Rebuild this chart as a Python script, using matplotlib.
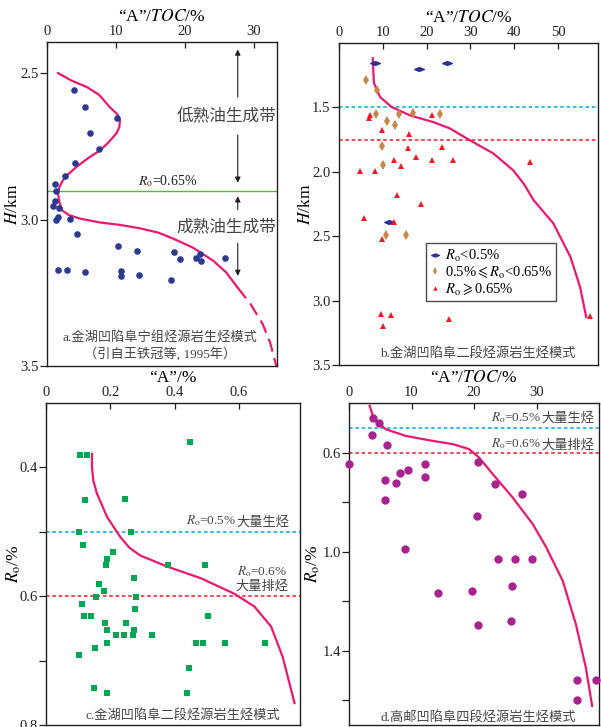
import matplotlib
matplotlib.use("Agg")
import matplotlib.pyplot as plt

plt.rcParams["font.family"] = ["Liberation Serif", "Noto Sans CJK SC"]
plt.rcParams["mathtext.fontset"] = "stix"
plt.rcParams["axes.unicode_minus"] = False

INK = "#231f20"
CURVE = "#e8196e"
CYAN = "#29b6e3"
RED_LINE = "#ef3e4a"

# ---- panel a: Jinhu sag, Funing Fm. ("A"/TOC vs depth)
a_toc = [3.9, 5.5, 10.1, 6.2, 7.5, 4.1, 2.6, 1.2, 1.3, 1.2, 0.9, 1.8, 1.3, 1.6,
         3.3, 4.4, 10.3, 13.1, 18.5, 19.3, 21.6, 22.2, 22.3, 25.9, 1.6, 2.9,
         5.5, 10.7, 10.8, 13.3, 18.0]
a_depth = [2.558, 2.616, 2.654, 2.705, 2.760, 2.808, 2.853, 2.880, 2.904, 2.938,
           2.955, 2.962, 3.003, 2.990, 2.997, 3.050, 3.089, 3.106, 3.110, 3.134,
           3.130, 3.116, 3.140, 3.130, 3.171, 3.171, 3.178, 3.175, 3.192, 3.188,
           3.205]
a_curve_x = [1.6, 3.5, 5.8, 7.6, 9.1, 10.2, 10.6, 10.5, 10.1, 9.0, 7.7, 6.0, 4.3,
             3.1, 2.3, 1.8, 1.6, 1.8, 2.2, 3.2, 4.8, 7.7, 10.5, 13.5, 16.2, 18.3,
             21.2, 24.1, 26.0, 27.7]
a_curve_y = [2.5, 2.525, 2.548, 2.575, 2.616, 2.64, 2.66, 2.685, 2.705, 2.735,
             2.764, 2.79, 2.82, 2.845, 2.866, 2.89, 2.911, 2.94, 2.969, 2.985,
             2.997, 3.01, 3.018, 3.03, 3.045, 3.065, 3.096, 3.14, 3.18, 3.233]
a_dash_x = [27.7, 29.6, 31.3, 32.4, 33.3]
a_dash_y = [3.233, 3.29, 3.356, 3.42, 3.5]
a_ro_line = 2.903

# ---- panel b: Jinhu sag, E1f2
b_low_toc = [8.2, 18.3, 24.6, 11.3]
b_low_h = [1.157, 1.200, 1.153, 2.386]
b_mid_toc = [6.2, 8.6, 8.4, 10.9, 13.6, 12.7, 16.8, 23.1, 9.9, 10.0, 10.8, 15.2]
b_mid_h = [1.291, 1.363, 1.554, 1.606, 1.554, 1.634, 1.544, 1.549, 1.80, 1.95,
           2.487, 2.487]
b_high_toc = [7.1, 6.8, 9.9, 21.2, 15.9, 15.7, 23.4, 17.5, 12.6, 14.1, 21.3, 25.9,
              43.6, 4.9, 8.2, 13.2, 18.6, 5.6, 12.5, 9.8, 9.6, 11.8, 10.0, 25.0,
              57.2]
b_high_h = [1.557, 1.583, 1.678, 1.557, 1.704, 1.815, 1.808, 1.885, 1.906, 1.955,
            1.911, 1.911, 1.921, 1.991, 1.991, 2.18, 2.25, 2.355, 2.39, 2.518,
            3.107, 3.112, 3.198, 3.143, 3.12]
b_curve_x = [7.7, 7.8, 8.0, 9.4, 12.0, 16.2, 21.5, 25.3, 29.9, 35.2, 39.8, 42.3,
             44.4, 48.9, 52.8, 55.0, 56.4]
b_curve_y = [1.118, 1.2, 1.314, 1.42, 1.497, 1.562, 1.614, 1.663, 1.756, 1.857,
             1.99, 2.1, 2.22, 2.40, 2.66, 2.893, 3.126]
b_lines = [1.5, 1.75]

# ---- panel c: Jinhu sag, E1f2 ("A" vs Ro)
c_a = [0.106, 0.129, 0.447, 0.122, 0.247, 0.103, 0.263, 0.116, 0.191, 0.209,
       0.188, 0.380, 0.493, 0.274, 0.166, 0.181, 0.156, 0.281, 0.113, 0.278,
       0.119, 0.141, 0.503, 0.184, 0.250, 0.191, 0.274, 0.219, 0.244, 0.272,
       0.331, 0.191, 0.466, 0.488, 0.556, 0.681, 0.153, 0.103, 0.444, 0.150,
       0.191, 0.438]
c_ro = [0.381, 0.381, 0.360, 0.451, 0.449, 0.501, 0.501, 0.521, 0.542, 0.531,
        0.551, 0.551, 0.551, 0.572, 0.581, 0.592, 0.601, 0.601, 0.612, 0.620,
        0.631, 0.631, 0.631, 0.641, 0.641, 0.652, 0.652, 0.661, 0.661, 0.661,
        0.661, 0.672, 0.672, 0.672, 0.672, 0.672, 0.681, 0.691, 0.712, 0.742,
        0.751, 0.751]
c_curve_x = [0.143, 0.143, 0.147, 0.158, 0.19, 0.231, 0.26, 0.294, 0.377, 0.481,
             0.585, 0.648, 0.70, 0.736, 0.773]
c_curve_y = [0.379, 0.399, 0.42, 0.44, 0.477, 0.508, 0.525, 0.537, 0.554, 0.572,
             0.596, 0.616, 0.647, 0.694, 0.766]

# ---- panel d: Gaoyou sag, E1f4
d_toc = [3.85, 4.86, 3.6, 6.0, 0.0, 5.8, 7.5, 8.2, 9.5, 12.2, 12.2, 20.6, 23.3,
         27.6, 5.7, 20.5, 9.0, 23.9, 26.5, 29.3, 26.1, 14.2, 19.6, 20.7, 25.9,
         36.4, 39.5, 36.4]
d_ro = [0.461, 0.479, 0.53, 0.57, 0.648, 0.71, 0.721, 0.681, 0.671, 0.648, 0.698,
        0.638, 0.728, 0.767, 0.79, 0.857, 0.988, 1.031, 1.031, 1.031, 1.139,
        1.167, 1.16, 1.296, 1.279, 1.517, 1.517, 1.598]
d_curve_x = [3.3, 4.0, 5.9, 9.1, 13.4, 16.6, 19.2, 20.8, 23.0, 26.2, 29.4, 31.5,
             34.2, 36.3, 37.9, 38.9]
d_curve_y = [0.411, 0.465, 0.506, 0.533, 0.553, 0.566, 0.586, 0.62, 0.687, 0.782,
             0.889, 0.98, 1.118, 1.293, 1.469, 1.623]

fig = plt.figure(figsize=(6.01, 7.27), dpi=100)
W, H = 601.0, 727.0


def make_axes(l, r, t, b):
    ax = fig.add_axes([l / W, 1 - b / H, (r - l) / W, (b - t) / H])
    for s in ax.spines.values():
        s.set_color(INK)
        s.set_linewidth(1.0)
    ax.xaxis.set_label_position("top")
    ax.xaxis.tick_top()
    ax.tick_params(axis="x", direction="in", length=4, width=0.9, colors=INK,
                   labelsize=10.5, pad=3)
    ax.tick_params(axis="y", direction="out", length=5, width=0.9, colors=INK,
                   labelsize=10.5, pad=1, which="both")
    return ax


def ro_note(ax, x, y, value, tail, size=9.5):
    # right-aligned "R_o=..." + chinese words
    t = ax.text(x, y, tail, ha="right", va="bottom", fontsize=size, color="#444")
    ax.annotate(value, xy=(0, 0.02), xycoords=t, ha="right", va="bottom",
                fontsize=size, color="#444")


xlab_toc = "\u201cA\u201d/$TOC$/%"

# a
ax = make_axes(47, 277, 42, 366)
ax.set_xlim(0, 33.4)
ax.set_ylim(3.5, 2.394)
ax.set_xticks([0, 10, 20, 30])
ax.set_yticks([2.5, 3.0, 3.5])
ax.set_yticklabels(["2.5", "3.0", "3.5"])
ax.set_xlabel(xlab_toc, fontsize=12.5, labelpad=3)
ax.set_ylabel("$H$/km", fontsize=12.5)
ax.yaxis.set_label_coords(-0.114, 0.5)
ax.axhline(a_ro_line, color="#5cb247", lw=1.0)
ax.plot(a_curve_x, a_curve_y, color=CURVE, lw=1.6)
ax.plot(a_dash_x, a_dash_y, color=CURVE, lw=1.6, ls=(0, (6, 3)))
ax.scatter(a_toc, a_depth, s=14, color="#2b3990", zorder=3)
ax.text(13.2, 2.895, "$R_\\mathrm{o}$=0.65%", fontsize=10, color=INK, va="bottom")
arrow = dict(arrowstyle="-|>", color=INK, lw=0.8, mutation_scale=8)
ax.annotate("", xy=(27.7, 2.41), xytext=(27.7, 2.592), arrowprops=arrow)
ax.annotate("", xy=(27.7, 2.884), xytext=(27.7, 2.702), arrowprops=arrow)
ax.annotate("", xy=(27.7, 2.911), xytext=(27.7, 2.976), arrowprops=arrow)
ax.annotate("", xy=(27.7, 3.202), xytext=(27.7, 3.072), arrowprops=arrow)
ax.text(26.0, 2.647, "低熟油生成带", fontsize=12, color="#444", ha="center", va="center")
ax.text(26.0, 3.026, "成熟油生成带", fontsize=12, color="#444", ha="center", va="center")
ax.text(0.49, 0.085, "a.金湖凹陷阜宁组烃源岩生烃模式", transform=ax.transAxes,
        fontsize=9.5, color="#444", ha="center", va="center")
ax.text(0.49, 0.038, "（引自王铁冠等, 1995年）", transform=ax.transAxes,
        fontsize=9.5, color="#444", ha="center", va="center")

# b
ax = make_axes(339, 598, 43, 365)
ax.set_xlim(0, 59.1)
ax.set_ylim(3.5, 1.0)
ax.set_xticks([0, 10, 20, 30, 40, 50])
ax.set_yticks([1.5, 2.0, 2.5, 3.0, 3.5])
ax.set_yticklabels(["1.5", "2.0", "2.5", "3.0", "3.5"])
ax.set_xlabel(xlab_toc, fontsize=12.5, labelpad=3)
ax.set_ylabel("$H$/km", fontsize=12.5)
ax.yaxis.set_label_coords(-0.098, 0.5)
ax.axhline(b_lines[0], color=CYAN, lw=1.3, ls=(0, (2, 1.5)))
ax.axhline(b_lines[1], color=RED_LINE, lw=1.3, ls=(0, (2, 1.5)))
ax.plot(b_curve_x, b_curve_y, color=CURVE, lw=1.6)
flat_diamond = [(-1, 0), (0, 0.4), (1, 0), (0, -0.4), (-1, 0)]
ax.plot(b_low_toc, b_low_h, ls="none", marker=flat_diamond, ms=7, color="#2e3192",
        label="$R_\\mathrm{o}$<0.5%")
ax.plot(b_mid_toc, b_mid_h, ls="none", marker="d", ms=5, mew=0, color="#c8874a",
        label="0.5%$\\leqslant R_\\mathrm{o}$<0.65%")
ax.plot(b_high_toc, b_high_h, ls="none", marker="^", ms=4, mew=0, color="#ed1c24",
        label="$R_\\mathrm{o}\\geqslant$0.65%", clip_on=False)
leg = ax.legend(loc="upper left", bbox_to_anchor=(0.335, 0.378), fontsize=10.5,
                frameon=True, fancybox=False, handlelength=0.7, handletextpad=0.3,
                borderpad=0.3, labelspacing=0.1, borderaxespad=0, markerscale=0.8)
leg.get_frame().set_edgecolor(INK)
leg.get_frame().set_linewidth(1.0)
ax.text(0.537, 0.038, "b.金湖凹陷阜二段烃源岩生烃模式", transform=ax.transAxes,
        fontsize=9.5, color="#444", ha="center", va="center")

# c
ax = make_axes(46, 300, 403, 725)
ax.set_xlim(0, 0.79)
ax.set_ylim(0.8, 0.3)
ax.set_xticks([0, 0.2, 0.4, 0.6])
ax.set_xticklabels(["0", "0.2", "0.4", "0.6"])
ax.set_yticks([0.4, 0.6, 0.8])
ax.set_yticklabels(["0.4", "0.6", "0.8"])
ax.set_yticks([0.5, 0.7], minor=True)
ax.set_xlabel("\u201cA\u201d/%", fontsize=12.5, labelpad=3)
ax.set_ylabel("$R_\\mathrm{o}$/%", fontsize=12.5)
ax.yaxis.set_label_coords(-0.09, 0.5)
ax.axhline(0.5, color=CYAN, lw=1.3, ls=(0, (2, 1.5)))
ax.axhline(0.6, color=RED_LINE, lw=1.3, ls=(0, (2, 1.5)))
ax.plot(c_curve_x, c_curve_y, color=CURVE, lw=1.6)
ax.scatter(c_a, c_ro, s=16, marker="s", color="#00a651", zorder=3, linewidths=0)
ro_note(ax, 0.757, 0.495, "$R_\\mathrm{o}$=0.5%", "大量生烃")
ax.text(0.672, 0.562, "$R_\\mathrm{o}$=0.6%", fontsize=9.5, color="#444",
        ha="center", va="center")
ax.text(0.672, 0.585, "大量排烃", fontsize=9.5, color="#444", ha="center", va="center")
ax.text(0.54, 0.785, "c.金湖凹陷阜二段烃源岩生烃模式", fontsize=9.5, color="#444",
        ha="center", va="center", transform=ax.get_yaxis_transform())

# d
ax = make_axes(349, 599, 403, 725)
ax.set_xlim(0, 40)
ax.set_ylim(1.7, 0.4)
ax.set_xticks([0, 10, 20, 30])
ax.set_yticks([0.6, 1.0, 1.4])
ax.set_yticklabels(["0.6", "1.0", "1.4"])
ax.set_yticks([0.8, 1.2, 1.6], minor=True)
ax.set_xlabel(xlab_toc, fontsize=12.5, labelpad=3)
ax.set_ylabel("$R_\\mathrm{o}$/%", fontsize=12.5)
ax.yaxis.set_label_coords(-0.106, 0.5)
ax.axhline(0.5, color=CYAN, lw=1.3, ls=(0, (2, 1.5)))
ax.axhline(0.6, color=RED_LINE, lw=1.3, ls=(0, (2, 1.5)))
ax.plot(d_curve_x, d_curve_y, color=CURVE, lw=1.6)
ax.scatter(d_toc, d_ro, s=36, color="#a8238f", zorder=3, linewidths=0, clip_on=False)
ro_note(ax, 39.3, 0.488, "$R_\\mathrm{o}$=0.5%", "大量生烃")
ro_note(ax, 39.3, 0.595, "$R_\\mathrm{o}$=0.6%", "大量排烃")
ax.text(0.518, 1.667, "d.高邮凹陷阜四段烃源岩生烃模式", fontsize=9.5, color="#444",
        ha="center", va="center", transform=ax.get_yaxis_transform())

fig.savefig("out.png", dpi=100)
